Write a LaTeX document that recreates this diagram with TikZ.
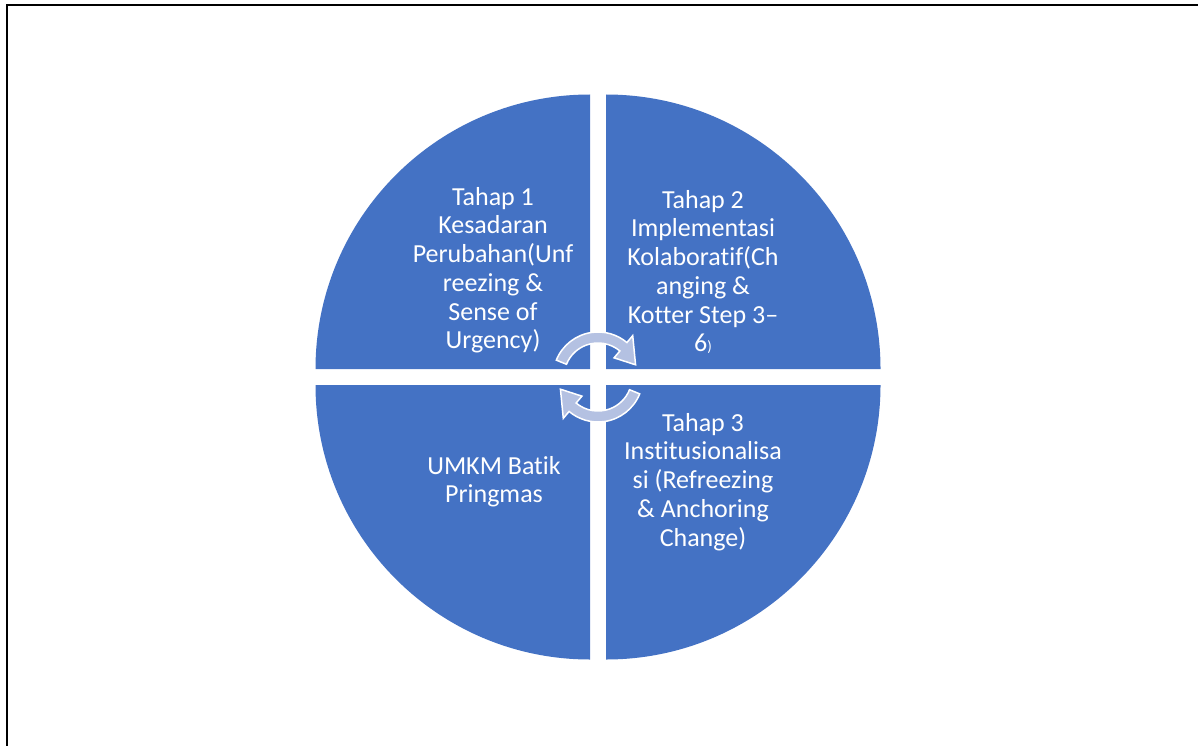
\documentclass[tikz,border=0pt]{standalone}
\usepackage{fontspec}
\setmainfont{Carlito}[Ligatures={NoCommon,NoContextual},Contextuals=NoAlternate]
\definecolor{quadblue}{RGB}{68,114,196}
\definecolor{arrowfill}{RGB}{180,193,226}
\tikzset{
  quad/.style={fill=quadblue},
  cyclearrow/.style={fill=arrowfill, draw=white, line width=1.5pt, line join=miter},
  label/.style={text=white, align=center, inner sep=0pt, anchor=north,
    font=\fontsize{26}{28.7}\selectfont},
  framerule/.style={draw=black, line width=2.5pt}
}
\newcommand{\firstline}{\rule{0pt}{20pt}}
\begin{document}
\begin{tikzpicture}[x=1pt,y=-1pt]
\useasboundingbox (0,0) rectangle (1198,746);
% frame
\draw[framerule] (7,747) -- (7,5) -- (1199,5);
% quadrants
\fill[quad] (590,369) -- ++(-180:274.5) arc[start angle=-180, end angle=-90, radius=274.5] -- cycle;
\fill[quad] (606,369) -- ++(-90:274.5) arc[start angle=-90, end angle=0, radius=274.5] -- cycle;
\fill[quad] (590,385) -- ++(180:274.5) arc[start angle=180, end angle=90, radius=274.5] -- cycle;
\fill[quad] (606,385) -- ++(90:274.5) arc[start angle=90, end angle=0, radius=274.5] -- cycle;
% labels
\node[label] (t1) at (493,185) {\firstline Tahap 1\\Kesadaran\\Perubahan(Unf\\reezing \&\\Sense of\\Urgency)};
\node[label] (t2) at (703,188) {\firstline Tahap 2\\Implementasi\\Kolaboratif(Ch\\anging \&\\Kotter Step 3--\\6{\fontsize{15}{15}\selectfont)}};
\node[label] (t3) at (703,411) {\firstline Tahap 3\\Institusionalisa\\si (Refreezing\\\& Anchoring\\Change)};
\node[label] (t4) at (494,454) {\firstline UMKM Batik\\Pringmas};
% circular arrows
\begin{scope}[shift={(598,377)}]
\draw[cyclearrow] (-158:45) arc[start angle=-158, end angle=-50, radius=45]
  -- (-50:54) -- (-18:39.5) -- (-50:25) -- (-50:34)
  arc[start angle=-50, end angle=-158, radius=34] -- cycle;
\draw[cyclearrow] (22:45) arc[start angle=22, end angle=130, radius=45]
  -- (130:54) -- (162:39.5) -- (130:25) -- (130:34)
  arc[start angle=130, end angle=22, radius=34] -- cycle;
\end{scope}
\end{tikzpicture}
\end{document}
